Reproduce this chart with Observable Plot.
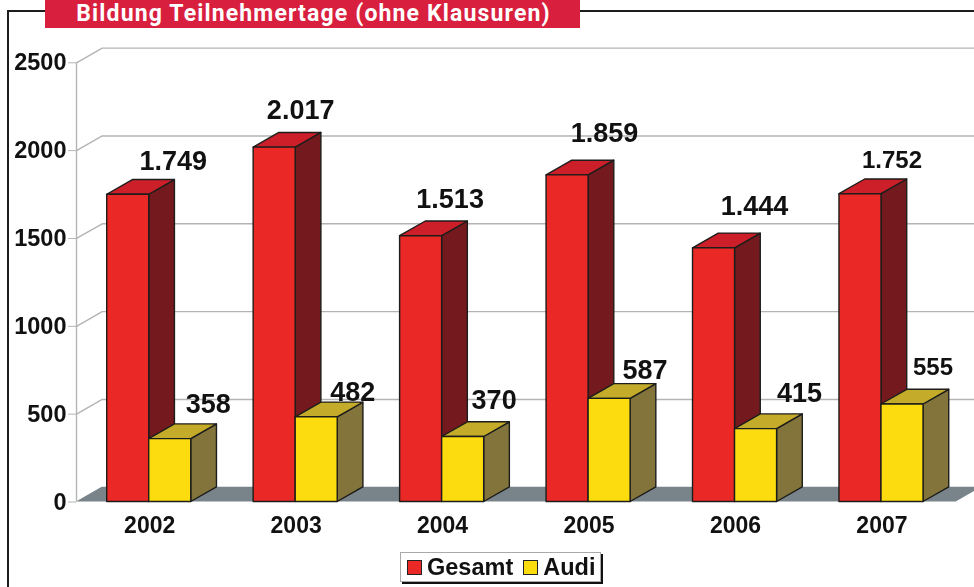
<!DOCTYPE html>
<html><head><meta charset="utf-8">
<script src="https://cdn.jsdelivr.net/npm/d3@7"></script>
<script src="https://cdn.jsdelivr.net/npm/@observablehq/plot@0.6"></script>
<style>
html,body{margin:0;padding:0;background:#fff;overflow:hidden}
#wrap{position:relative;width:974px;height:587px;font-family:"Liberation Sans",Arial,sans-serif;overflow:hidden;filter:blur(0.45px)}
#frameT{position:absolute;left:7px;top:10px;width:967px;height:2px;background:#1d1d1b}
#frameL{position:absolute;left:7px;top:10px;width:2px;height:577px;background:#1d1d1b}
#title{position:absolute;left:45px;top:0;width:535px;height:28px;background:#d91f3e;color:#fff;font:700 23px/27px Roboto,sans-serif;letter-spacing:1.15px;text-align:center;white-space:nowrap;padding-left:2px;box-sizing:border-box}
#legend{position:absolute;left:400px;top:552px;width:201px;height:30px;border:1px solid #aaa;box-shadow:2px 2px 0 #111;background:#fff;box-sizing:border-box;display:flex;align-items:center;font:700 23.5px "Liberation Sans",Arial,sans-serif;color:#111;z-index:2}
#legend i{display:inline-block;width:15px;height:15px;border:1.5px solid #222;box-sizing:border-box;margin:0 5px 0 6px}
#legend span{margin-right:4px}
svg{position:absolute;left:0;top:0;background:transparent}
</style></head><body>
<div id="wrap">
<div id="frameT"></div><div id="frameL"></div>
<div id="title">Bildung Teilnehmertage (ohne Klausuren)</div>
<div id="legend"><i style="background:#ea2825"></i><span>Gesamt</span><i style="background:#fcdc0f"></i><span>Audi</span></div>
</div>
<script>
const years = [2002, 2003, 2004, 2005, 2006, 2007];
const gesamt = [1749, 2017, 1513, 1859, 1444, 1752];
const audi = [358, 482, 370, 587, 415, 555];
const gesamtLabels = ["1.749", "2.017", "1.513", "1.859", "1.444", "1.752"];
const audiLabels = ["358", "482", "370", "587", "415", "555"];
const yTicks = [0, 500, 1000, 1500, 2000, 2500];

// 3D projection in scale units, label nudges in pixels
const barW = 0.287, depthX = 0.1755, depthY = 83.7;
const xMin = -0.2096, xMax = 5.922, xFloorEnd = 5.797;
const redNudge = [[66, -33], [47, -37], [50, -37], [58, -42], [61.5, -42], [52.5, -34]];
const yelNudge = [[59, -35], [57, -25], [52, -37], [56.5, -29], [64.5, -36], [51.5, -37]];
const labelSize = [27, 27, 27, 27, 27, 24];

const sideFaces = (vals, off) => vals.flatMap((v, i) => {
  const r = i + off + barW;
  return [{id: i, x: r, lo: 0, hi: v}, {id: i, x: r + depthX, lo: depthY, hi: v + depthY}];
});
const topFaces = (vals, off) => vals.flatMap((v, i) => {
  const l = i + off, r = l + barW;
  return [
    {id: i, x: l, lo: v, hi: v},
    {id: i, x: l + depthX, lo: v, hi: v + depthY},
    {id: i, x: r, lo: v, hi: v + depthY},
    {id: i, x: r + depthX, lo: v + depthY, hi: v + depthY}
  ];
});
const fronts = (vals, off) => vals.map((v, i) => ({l: i + off, r: i + off + barW, v}));
const edge = {stroke: "#1d1d1b", strokeWidth: 1.4, strokeLinejoin: "round"};
const bars = (vals, off, cSide, cTop, cFront) => [
  Plot.area(sideFaces(vals, off), {x1: "x", y1: "lo", y2: "hi", z: "id", fill: cSide, ...edge}),
  Plot.area(topFaces(vals, off), {x1: "x", y1: "lo", y2: "hi", z: "id", fill: cTop, ...edge}),
  Plot.rect(fronts(vals, off), {x1: "l", x2: "r", y1: 0, y2: "v", fill: cFront, inset: 0, ...edge})
];
const gridRows = yTicks.slice(1).flatMap(v => [
  {v, x: xMin, y: v}, {v, x: xMin + depthX, y: v + depthY}, {v, x: xMax, y: v + depthY}
]);
const floor = [
  {x: xMin, lo: 0, hi: 0},
  {x: xMin + depthX, lo: 0, hi: depthY},
  {x: xFloorEnd, lo: 0, hi: depthY},
  {x: xFloorEnd + depthX, lo: depthY, hi: depthY}
];
const labelFont = {fontFamily: "Liberation Sans, Arial, sans-serif", fontWeight: 700, fill: "#111"};

const chart = Plot.plot({
  width: 974, height: 587,
  marginLeft: 76, marginRight: 0, marginTop: 62.3, marginBottom: 85.5,
  style: {background: "transparent", overflow: "hidden"},
  x: {domain: [xMin, xMax]},
  y: {domain: [0, 2500]},
  marks: [
    Plot.line(gridRows, {x: "x", y: "y", z: "v", stroke: "#b4b4b4", strokeWidth: 1.4}),
    Plot.ruleX([xMin], {y1: 0, y2: 2500, stroke: "#b4b4b4", strokeWidth: 1.4}),
    Plot.area(floor, {x1: "x", y1: "lo", y2: "hi", fill: "#78838a"}),
    Plot.axisY({ticks: yTicks, tickFormat: d => String(d), label: null, tickSize: 8, tickPadding: 2, stroke: "#b4b4b4", fontSize: 23.5, fontWeight: 700, fontFamily: "Liberation Sans, Arial, sans-serif", fill: "#111"}),
    Plot.axisX({ticks: years.map((_, i) => i + barW + 0.003), tickFormat: (d, i) => String(years[i]), label: null, tickSize: 0, tickPadding: 15, fontSize: 23, fontWeight: 700, fontFamily: "Liberation Sans, Arial, sans-serif", fill: "#111"}),
    ...bars(gesamt, 0, "#741a1e", "#cc1f2a", "#ea2825"),
    ...bars(audi, barW, "#82743a", "#c4ab2a", "#fcdc0f"),
    ...years.map((_, i) => Plot.text([{i, v: gesamt[i], t: gesamtLabels[i]}], {
      x: d => d.i + redNudge[i][0] / 146.45, y: "v", text: "t", dy: redNudge[i][1], fontSize: labelSize[i], ...labelFont})),
    ...years.map((_, i) => Plot.text([{i, v: audi[i], t: audiLabels[i]}], {
      x: d => d.i + barW + yelNudge[i][0] / 146.45, y: "v", text: "t", dy: yelNudge[i][1], fontSize: labelSize[i], ...labelFont}))
  ]
});
document.getElementById("wrap").appendChild(chart);
</script>
</body></html>
